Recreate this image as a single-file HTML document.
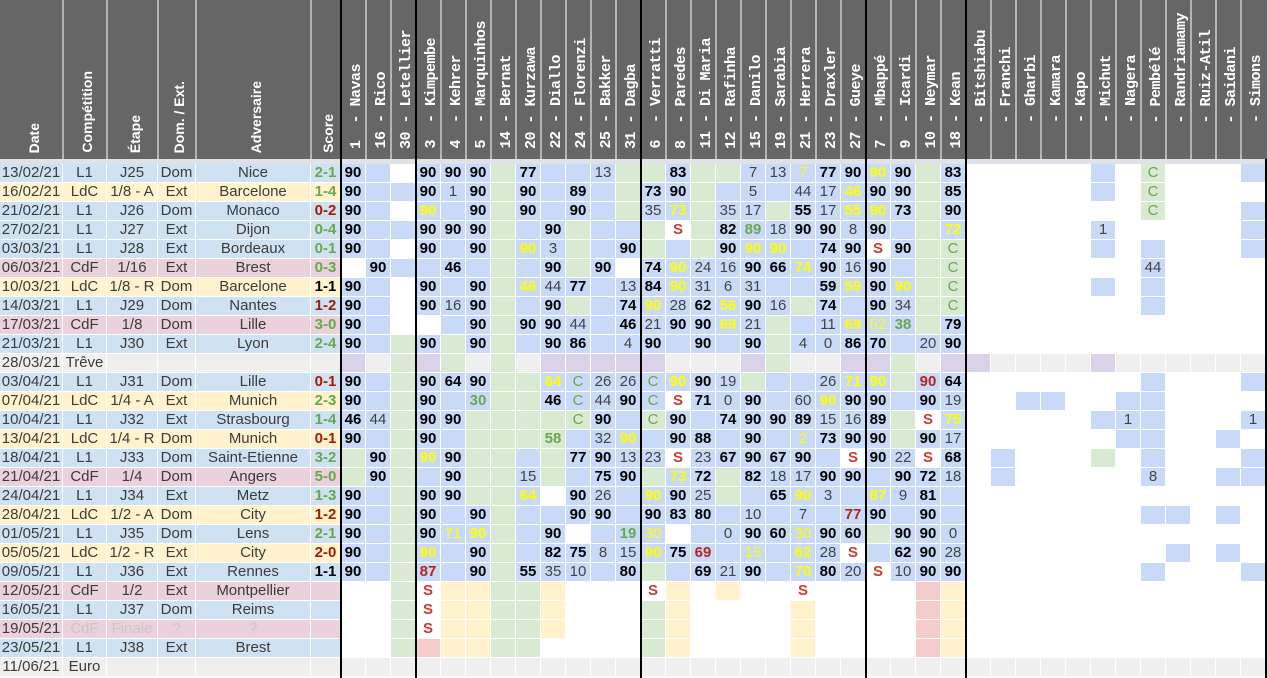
<!DOCTYPE html>
<html><head><meta charset="utf-8"><style>
*{margin:0;padding:0}
body{width:1267px;height:678px;overflow:hidden;position:relative;background:#fff;font-family:"Liberation Sans",Arial,sans-serif}
#hd{position:absolute;left:0;top:0;width:1267px;height:159px;background:#666}
.sp{position:absolute;top:0;width:2px;height:159px;background:#b4b4b4}
.lh,.ph{position:absolute;writing-mode:vertical-rl;transform:rotate(180deg);color:#fff;white-space:pre;width:25px}
.lh{font:bold 14px/25px "Liberation Sans",sans-serif;bottom:6px}
.ph{font:bold 15px/25px "Liberation Mono",monospace;letter-spacing:-0.5px;bottom:10px}
#gap{position:absolute;left:0;top:159px;width:1267px;height:5px;background:#dfe3e8}
.row{position:absolute;left:0;height:19px;display:flex}
.row>span,.row>i{flex:none;display:block;box-sizing:border-box;height:19px;border-right:1px solid #fff;border-bottom:1px solid #fff;text-align:center;line-height:18px;font-size:15px;white-space:nowrap;overflow:hidden;font-style:normal}
.row>i{width:25px;font-weight:bold;color:#000;background:#fff}
.row>span{color:#3c3c3c}
.c1{width:63px}.c2{width:44px}.c3{width:51px}.c4{width:38px}.c5{width:115px}.c6{width:30px;font-weight:bold}
.rb>span{background:#cfe2f3}.ry>span{background:#fff2cc}.rp>span{background:#ead1dc}.re>span{background:#efefef}
.row>.sg{color:#6aa84f}.row>.sr{color:#a61c00}.row>.sk{color:#000}.row>.lt{color:#c8c8c8}
.row>.B{background:#c9daf8}.row>.G{background:#d9ead3}.row>.Y{background:#fff2cc}.row>.L{background:#d9d2e9}.row>.E{background:#efefef}.row>.P{background:#f4cccc}
.row>.n{font-weight:normal;color:#434343}
.row>.y{color:#ffff00}
.row>.g{color:#6aa84f}
.row>.c{color:#6aa84f;font-weight:normal}
.row>.r{color:#b3261e}
.row>.s{color:#cc3d2f}
.bl{position:absolute;top:0;width:2px;height:678px;background:#000;z-index:5}
</style></head><body>
<div id="hd">
<div class="sp" style="left:62px"></div><div class="sp" style="left:106px"></div><div class="sp" style="left:157px"></div><div class="sp" style="left:195px"></div><div class="sp" style="left:310px"></div>
<div class="sp" style="left:365px"></div><div class="sp" style="left:390px"></div>
<div class="sp" style="left:440px"></div><div class="sp" style="left:465px"></div><div class="sp" style="left:490px"></div><div class="sp" style="left:515px"></div><div class="sp" style="left:540px"></div><div class="sp" style="left:565px"></div><div class="sp" style="left:590px"></div><div class="sp" style="left:615px"></div>
<div class="sp" style="left:665px"></div><div class="sp" style="left:690px"></div><div class="sp" style="left:715px"></div><div class="sp" style="left:740px"></div><div class="sp" style="left:765px"></div><div class="sp" style="left:790px"></div><div class="sp" style="left:815px"></div><div class="sp" style="left:840px"></div>
<div class="sp" style="left:890px"></div><div class="sp" style="left:915px"></div><div class="sp" style="left:940px"></div>
<div class="sp" style="left:990px"></div><div class="sp" style="left:1015px"></div><div class="sp" style="left:1040px"></div><div class="sp" style="left:1065px"></div><div class="sp" style="left:1090px"></div><div class="sp" style="left:1115px"></div><div class="sp" style="left:1140px"></div><div class="sp" style="left:1165px"></div><div class="sp" style="left:1190px"></div><div class="sp" style="left:1215px"></div><div class="sp" style="left:1240px"></div>
<span class="lh" style="left:22px">Date</span>
<span class="lh" style="left:75px">Compétition</span>
<span class="lh" style="left:123px">Étape</span>
<span class="lh" style="left:167px">Dom. / Ext.</span>
<span class="lh" style="left:244px">Adversaire</span>
<span class="lh" style="left:316px">Score</span>
<span class="ph" style="left:344px">1  - Navas</span>
<span class="ph" style="left:369px">16 - Rico</span>
<span class="ph" style="left:394px">30 - Letellier</span>
<span class="ph" style="left:419px">3  - Kimpembe</span>
<span class="ph" style="left:444px">4  - Kehrer</span>
<span class="ph" style="left:469px">5  - Marquinhos</span>
<span class="ph" style="left:494px">14 - Bernat</span>
<span class="ph" style="left:519px">20 - Kurzawa</span>
<span class="ph" style="left:544px">22 - Diallo</span>
<span class="ph" style="left:569px">24 - Florenzi</span>
<span class="ph" style="left:594px">25 - Bakker</span>
<span class="ph" style="left:619px">31 - Dagba</span>
<span class="ph" style="left:644px">6  - Verratti</span>
<span class="ph" style="left:669px">8  - Paredes</span>
<span class="ph" style="left:694px">11 - Di Maria</span>
<span class="ph" style="left:719px">12 - Rafinha</span>
<span class="ph" style="left:744px">15 - Danilo</span>
<span class="ph" style="left:769px">19 - Sarabia</span>
<span class="ph" style="left:794px">21 - Herrera</span>
<span class="ph" style="left:819px">23 - Draxler</span>
<span class="ph" style="left:844px">27 - Gueye</span>
<span class="ph" style="left:869px">7  - Mbappé</span>
<span class="ph" style="left:894px">9  - Icardi</span>
<span class="ph" style="left:919px">10 - Neymar</span>
<span class="ph" style="left:944px">18 - Kean</span>
<span class="ph" style="left:969px">   - Bitshiabu</span>
<span class="ph" style="left:994px">   - Franchi</span>
<span class="ph" style="left:1019px">   - Gharbi</span>
<span class="ph" style="left:1044px">   - Kamara</span>
<span class="ph" style="left:1069px">   - Kapo</span>
<span class="ph" style="left:1094px">   - Michut</span>
<span class="ph" style="left:1119px">   - Nagera</span>
<span class="ph" style="left:1144px">   - Pembélé</span>
<span class="ph" style="left:1169px">   - Randriamamy</span>
<span class="ph" style="left:1194px">   - Ruiz-Atil</span>
<span class="ph" style="left:1219px">   - Saidani</span>
<span class="ph" style="left:1244px">   - Simons</span>
</div>
<div id="gap"></div>

<div class="row rb" style="top:164px"><span class="c1">13/02/21</span><span class="c2">L1</span><span class="c3">J25</span><span class="c4">Dom</span><span class="c5">Nice</span><span class="c6 sg">2-1</span><i class="B">90</i><i class="B"></i><i></i><i class="B">90</i><i class="B">90</i><i class="B">90</i><i class="G"></i><i class="B">77</i><i class="B"></i><i class="B"></i><i class="B n">13</i><i class="G"></i><i class="G"></i><i class="B">83</i><i class="G"></i><i class="G"></i><i class="B n">7</i><i class="B n">13</i><i class="B n y">7</i><i class="B">77</i><i class="B">90</i><i class="B y">90</i><i class="B">90</i><i class="G"></i><i class="B">83</i><i></i><i></i><i></i><i></i><i></i><i class="B"></i><i></i><i class="G c">C</i><i></i><i></i><i></i><i class="B"></i></div>

<div class="row ry" style="top:183px"><span class="c1">16/02/21</span><span class="c2">LdC</span><span class="c3">1/8 - A</span><span class="c4">Ext</span><span class="c5">Barcelone</span><span class="c6 sg">1-4</span><i class="B">90</i><i class="B"></i><i class="B"></i><i class="B">90</i><i class="B n">1</i><i class="B">90</i><i class="G"></i><i class="B">90</i><i class="B"></i><i class="B">89</i><i class="B"></i><i class="G"></i><i class="B">73</i><i class="B">90</i><i class="G"></i><i class="B"></i><i class="B n">5</i><i class="B"></i><i class="B n">44</i><i class="B n">17</i><i class="B y">46</i><i class="B">90</i><i class="B">90</i><i class="G"></i><i class="B">85</i><i></i><i></i><i></i><i></i><i></i><i class="B"></i><i></i><i class="G c">C</i></div>

<div class="row rb" style="top:202px"><span class="c1">21/02/21</span><span class="c2">L1</span><span class="c3">J26</span><span class="c4">Dom</span><span class="c5">Monaco</span><span class="c6 sr">0-2</span><i class="B">90</i><i class="B"></i><i></i><i class="B y">90</i><i class="B"></i><i class="B">90</i><i class="G"></i><i class="B">90</i><i class="B"></i><i class="B">90</i><i class="B"></i><i class="G"></i><i class="B n">35</i><i class="B y">73</i><i class="G"></i><i class="B n">35</i><i class="B n">17</i><i class="G"></i><i class="B">55</i><i class="B n">17</i><i class="B y">55</i><i class="B y">90</i><i class="B">73</i><i class="G"></i><i class="B">90</i><i></i><i></i><i></i><i></i><i></i><i></i><i></i><i class="G c">C</i><i></i><i></i><i></i><i class="B"></i></div>

<div class="row rb" style="top:221px"><span class="c1">27/02/21</span><span class="c2">L1</span><span class="c3">J27</span><span class="c4">Ext</span><span class="c5">Dijon</span><span class="c6 sg">0-4</span><i class="B">90</i><i class="B"></i><i class="B"></i><i class="B">90</i><i class="B">90</i><i class="B">90</i><i class="G"></i><i class="B"></i><i class="B">90</i><i class="G"></i><i class="B"></i><i class="B"></i><i class="G"></i><i class="s">S</i><i class="G"></i><i class="B">82</i><i class="B g">89</i><i class="B n">18</i><i class="B">90</i><i class="B">90</i><i class="B n">8</i><i class="B">90</i><i class="B"></i><i class="G"></i><i class="B y">72</i><i></i><i></i><i></i><i></i><i></i><i class="B n">1</i><i></i><i></i><i></i><i></i><i></i><i class="B"></i></div>

<div class="row rb" style="top:240px"><span class="c1">03/03/21</span><span class="c2">L1</span><span class="c3">J28</span><span class="c4">Ext</span><span class="c5">Bordeaux</span><span class="c6 sg">0-1</span><i class="B">90</i><i class="B"></i><i></i><i class="B">90</i><i class="B"></i><i class="B">90</i><i class="G"></i><i class="B y">90</i><i class="B n">3</i><i class="G"></i><i class="B"></i><i class="B">90</i><i class="G"></i><i class="B"></i><i class="G"></i><i class="B">90</i><i class="B y">90</i><i class="B y">90</i><i class="B"></i><i class="B">74</i><i class="B">90</i><i class="s">S</i><i class="B">90</i><i class="G"></i><i class="G c">C</i><i></i><i></i><i></i><i></i><i></i><i class="B"></i><i></i><i class="B"></i><i></i><i></i><i></i><i class="B"></i></div>

<div class="row rp" style="top:259px"><span class="c1">06/03/21</span><span class="c2">CdF</span><span class="c3">1/16</span><span class="c4">Ext</span><span class="c5">Brest</span><span class="c6 sg">0-3</span><i></i><i class="B">90</i><i class="B"></i><i class="B"></i><i class="B">46</i><i class="B"></i><i class="G"></i><i class="B"></i><i class="B">90</i><i class="G"></i><i class="B">90</i><i></i><i class="B">74</i><i class="B y">90</i><i class="B n">24</i><i class="B n">16</i><i class="B">90</i><i class="B">66</i><i class="B y">74</i><i class="B">90</i><i class="B n">16</i><i class="B">90</i><i class="B"></i><i class="G"></i><i class="G c">C</i><i></i><i></i><i></i><i></i><i></i><i></i><i></i><i class="B n">44</i></div>

<div class="row ry" style="top:278px"><span class="c1">10/03/21</span><span class="c2">LdC</span><span class="c3">1/8 - R</span><span class="c4">Dom</span><span class="c5">Barcelone</span><span class="c6 sk">1-1</span><i class="B">90</i><i class="B"></i><i></i><i class="B">90</i><i class="B"></i><i class="B">90</i><i class="G"></i><i class="B y">46</i><i class="B n">44</i><i class="B">77</i><i class="B"></i><i class="B n">13</i><i class="B">84</i><i class="B y">90</i><i class="B n">31</i><i class="B n">6</i><i class="B n">31</i><i class="B"></i><i class="B"></i><i class="B">59</i><i class="B y">59</i><i class="B">90</i><i class="B y">90</i><i class="G"></i><i class="G c">C</i><i></i><i></i><i></i><i></i><i></i><i class="B"></i><i></i><i class="B"></i></div>

<div class="row rb" style="top:297px"><span class="c1">14/03/21</span><span class="c2">L1</span><span class="c3">J29</span><span class="c4">Dom</span><span class="c5">Nantes</span><span class="c6 sr">1-2</span><i class="B">90</i><i class="B"></i><i></i><i class="B">90</i><i class="B n">16</i><i class="B">90</i><i class="G"></i><i class="B"></i><i class="B">90</i><i class="G"></i><i class="B"></i><i class="B">74</i><i class="B y">90</i><i class="B n">28</i><i class="B">62</i><i class="B y">56</i><i class="B">90</i><i class="B n">16</i><i class="G"></i><i class="B">74</i><i class="B"></i><i class="B">90</i><i class="B n">34</i><i class="G"></i><i class="G c">C</i><i></i><i></i><i></i><i></i><i></i><i></i><i></i><i class="B"></i></div>

<div class="row rp" style="top:316px"><span class="c1">17/03/21</span><span class="c2">CdF</span><span class="c3">1/8</span><span class="c4">Dom</span><span class="c5">Lille</span><span class="c6 sg">3-0</span><i class="B">90</i><i class="B"></i><i></i><i></i><i class="B"></i><i class="B">90</i><i class="G"></i><i class="B">90</i><i class="B">90</i><i class="B n">44</i><i class="B"></i><i class="B">46</i><i class="B n">21</i><i class="B">90</i><i class="B">90</i><i class="B y">69</i><i class="B n">21</i><i class="G"></i><i class="B"></i><i class="B n">11</i><i class="B y">69</i><i class="B n y">52</i><i class="B g">38</i><i class="G"></i><i class="B">79</i></div>

<div class="row rb" style="top:335px"><span class="c1">21/03/21</span><span class="c2">L1</span><span class="c3">J30</span><span class="c4">Ext</span><span class="c5">Lyon</span><span class="c6 sg">2-4</span><i class="B">90</i><i class="B"></i><i class="G"></i><i class="B">90</i><i class="G"></i><i class="B">90</i><i class="G"></i><i class="B"></i><i class="B">90</i><i class="B">86</i><i class="B"></i><i class="B n">4</i><i class="B">90</i><i class="B"></i><i class="B">90</i><i class="B"></i><i class="B">90</i><i class="G"></i><i class="B n">4</i><i class="B n">0</i><i class="B">86</i><i class="B">70</i><i class="B"></i><i class="B n">20</i><i class="B">90</i></div>

<div class="row re" style="top:354px"><span class="c1">28/03/21</span><span class="c2">Trêve</span><span class="c3"></span><span class="c4"></span><span class="c5"></span><span class="c6"></span><i class="L"></i><i class="E"></i><i class="G"></i><i class="L"></i><i class="G"></i><i class="E"></i><i class="G"></i><i class="E"></i><i class="L"></i><i class="L"></i><i class="L"></i><i class="L"></i><i class="L"></i><i class="E"></i><i class="E"></i><i class="E"></i><i class="L"></i><i class="G"></i><i class="E"></i><i class="E"></i><i class="L"></i><i class="L"></i><i class="G"></i><i class="E"></i><i class="L"></i><i class="L"></i><i class="E"></i><i class="E"></i><i class="E"></i><i class="E"></i><i class="L"></i><i class="E"></i><i class="E"></i><i class="E"></i><i class="E"></i><i class="E"></i><i class="E"></i></div>

<div class="row rb" style="top:373px"><span class="c1">03/04/21</span><span class="c2">L1</span><span class="c3">J31</span><span class="c4">Dom</span><span class="c5">Lille</span><span class="c6 sr">0-1</span><i class="B">90</i><i class="B"></i><i class="G"></i><i class="B">90</i><i class="B">64</i><i class="B">90</i><i class="G"></i><i class="G"></i><i class="B y">64</i><i class="B c">C</i><i class="B n">26</i><i class="B n">26</i><i class="B c">C</i><i class="B y">90</i><i class="B">90</i><i class="B n">19</i><i class="G"></i><i class="B"></i><i class="B"></i><i class="B n">26</i><i class="B y">71</i><i class="B y">90</i><i class="G"></i><i class="B r">90</i><i class="B">64</i><i></i><i></i><i></i><i></i><i></i><i></i><i></i><i class="B"></i><i></i><i></i><i></i><i class="B"></i></div>

<div class="row ry" style="top:392px"><span class="c1">07/04/21</span><span class="c2">LdC</span><span class="c3">1/4 - A</span><span class="c4">Ext</span><span class="c5">Munich</span><span class="c6 sg">2-3</span><i class="B">90</i><i class="B"></i><i class="G"></i><i class="B">90</i><i class="B"></i><i class="B g">30</i><i class="G"></i><i class="G"></i><i class="B">46</i><i class="B c">C</i><i class="B n">44</i><i class="B">90</i><i class="B c">C</i><i class="s">S</i><i class="B">71</i><i class="B n">0</i><i class="B">90</i><i class="B"></i><i class="B n">60</i><i class="B y">90</i><i class="B">90</i><i class="B">90</i><i class="B"></i><i class="B">90</i><i class="B n">19</i><i></i><i></i><i class="B"></i><i class="B"></i><i></i><i></i><i class="B"></i><i class="B"></i></div>

<div class="row rb" style="top:411px"><span class="c1">10/04/21</span><span class="c2">L1</span><span class="c3">J32</span><span class="c4">Ext</span><span class="c5">Strasbourg</span><span class="c6 sg">1-4</span><i class="B">46</i><i class="B n">44</i><i class="G"></i><i class="B">90</i><i class="B">90</i><i class="G"></i><i class="G"></i><i class="G"></i><i class="G"></i><i class="G c">C</i><i class="B">90</i><i class="B"></i><i class="G c">C</i><i class="B">90</i><i class="B"></i><i class="B">74</i><i class="B">90</i><i class="B">90</i><i class="B">89</i><i class="B n">15</i><i class="B n">16</i><i class="B">89</i><i class="G"></i><i class="s">S</i><i class="B y">75</i><i></i><i></i><i></i><i></i><i></i><i class="B"></i><i class="B n">1</i><i class="B"></i><i></i><i></i><i></i><i class="B n">1</i></div>

<div class="row ry" style="top:430px"><span class="c1">13/04/21</span><span class="c2">LdC</span><span class="c3">1/4 - R</span><span class="c4">Dom</span><span class="c5">Munich</span><span class="c6 sr">0-1</span><i class="B">90</i><i class="B"></i><i class="G"></i><i class="B">90</i><i class="B"></i><i class="G"></i><i class="G"></i><i class="G"></i><i class="G g">58</i><i class="B"></i><i class="B n">32</i><i class="B y">90</i><i class="B"></i><i class="B">90</i><i class="B">88</i><i class="B"></i><i class="B">90</i><i class="B"></i><i class="B n y">2</i><i class="B">73</i><i class="B">90</i><i class="B">90</i><i class="G"></i><i class="B">90</i><i class="B n">17</i><i></i><i></i><i></i><i></i><i></i><i></i><i class="B"></i><i class="B"></i><i></i><i></i><i class="B"></i></div>

<div class="row rb" style="top:449px"><span class="c1">18/04/21</span><span class="c2">L1</span><span class="c3">J33</span><span class="c4">Dom</span><span class="c5">Saint-Etienne</span><span class="c6 sg">3-2</span><i class="G"></i><i class="B">90</i><i class="G"></i><i class="B y">90</i><i class="B">90</i><i class="G"></i><i class="G"></i><i class="B"></i><i class="G"></i><i class="B">77</i><i class="B">90</i><i class="B n">13</i><i class="B n">23</i><i class="s">S</i><i class="B n">23</i><i class="B">67</i><i class="B">90</i><i class="B">67</i><i class="B">90</i><i class="B"></i><i class="s">S</i><i class="B">90</i><i class="B n">22</i><i class="s">S</i><i class="B">68</i><i></i><i class="B"></i><i></i><i></i><i></i><i class="G"></i><i></i><i class="B"></i><i></i><i></i><i></i><i class="B"></i></div>

<div class="row rp" style="top:468px"><span class="c1">21/04/21</span><span class="c2">CdF</span><span class="c3">1/4</span><span class="c4">Dom</span><span class="c5">Angers</span><span class="c6 sg">5-0</span><i class="G"></i><i class="B">90</i><i class="G"></i><i class="B"></i><i class="B">90</i><i class="G"></i><i class="G"></i><i class="B n">15</i><i class="G"></i><i class="B"></i><i class="B">75</i><i class="B">90</i><i class="G"></i><i class="B y">73</i><i class="B">72</i><i class="G"></i><i class="B">82</i><i class="B n">18</i><i class="B n">17</i><i class="B">90</i><i class="B">90</i><i class="B"></i><i class="B">90</i><i class="B">72</i><i class="B n">18</i><i></i><i class="B"></i><i></i><i></i><i></i><i></i><i></i><i class="B n">8</i><i></i><i></i><i class="B"></i><i class="B"></i></div>

<div class="row rb" style="top:487px"><span class="c1">24/04/21</span><span class="c2">L1</span><span class="c3">J34</span><span class="c4">Ext</span><span class="c5">Metz</span><span class="c6 sg">1-3</span><i class="B">90</i><i class="B"></i><i class="G"></i><i class="B">90</i><i class="B">90</i><i class="G"></i><i class="G"></i><i class="B y">64</i><i></i><i class="B">90</i><i class="B n">26</i><i class="B"></i><i class="B y">90</i><i class="B">90</i><i class="B n">25</i><i class="G"></i><i class="B"></i><i class="B">65</i><i class="B y">90</i><i class="B n">3</i><i class="B"></i><i class="B y">87</i><i class="B n">9</i><i class="B">81</i><i class="B"></i></div>

<div class="row ry" style="top:506px"><span class="c1">28/04/21</span><span class="c2">LdC</span><span class="c3">1/2 - A</span><span class="c4">Dom</span><span class="c5">City</span><span class="c6 sr">1-2</span><i class="B">90</i><i class="B"></i><i class="G"></i><i class="B">90</i><i class="B"></i><i class="B">90</i><i class="G"></i><i class="B"></i><i class="B"></i><i class="B">90</i><i class="B">90</i><i class="B"></i><i class="B">90</i><i class="B">83</i><i class="B">80</i><i class="B"></i><i class="B n">10</i><i class="B"></i><i class="B n">7</i><i class="B"></i><i class="B r">77</i><i class="B">90</i><i class="B"></i><i class="B">90</i><i class="B"></i><i></i><i></i><i></i><i></i><i></i><i></i><i></i><i class="B"></i><i class="B"></i><i></i><i class="B"></i></div>

<div class="row rb" style="top:525px"><span class="c1">01/05/21</span><span class="c2">L1</span><span class="c3">J35</span><span class="c4">Dom</span><span class="c5">Lens</span><span class="c6 sg">2-1</span><i class="B">90</i><i class="B"></i><i class="G"></i><i class="B">90</i><i class="B n y">71</i><i class="B y">90</i><i class="G"></i><i class="B"></i><i class="B">90</i><i></i><i class="B"></i><i class="B g">19</i><i class="B n y">30</i><i></i><i class="B"></i><i class="B n">0</i><i class="B">90</i><i class="B">60</i><i class="B n y">30</i><i class="B">90</i><i class="B">60</i><i class="G"></i><i class="B">90</i><i class="B">90</i><i class="B n">0</i></div>

<div class="row ry" style="top:544px"><span class="c1">05/05/21</span><span class="c2">LdC</span><span class="c3">1/2 - R</span><span class="c4">Ext</span><span class="c5">City</span><span class="c6 sr">2-0</span><i class="B">90</i><i class="B"></i><i class="G"></i><i class="B y">90</i><i class="B"></i><i class="B">90</i><i class="G"></i><i class="B"></i><i class="B">82</i><i class="B">75</i><i class="B n">8</i><i class="B n">15</i><i class="B y">90</i><i class="B">75</i><i class="B r">69</i><i class="B"></i><i class="B n y">15</i><i class="B"></i><i class="B y">62</i><i class="B n">28</i><i class="s">S</i><i class="B"></i><i class="B">62</i><i class="B">90</i><i class="B n">28</i><i></i><i></i><i></i><i></i><i></i><i></i><i></i><i></i><i class="B"></i><i></i><i class="B"></i></div>

<div class="row rb" style="top:563px"><span class="c1">09/05/21</span><span class="c2">L1</span><span class="c3">J36</span><span class="c4">Ext</span><span class="c5">Rennes</span><span class="c6 sk">1-1</span><i class="B">90</i><i class="B"></i><i class="G"></i><i class="B r">87</i><i class="B"></i><i class="B">90</i><i class="G"></i><i class="B">55</i><i class="B n">35</i><i class="B n">10</i><i class="B"></i><i class="B">80</i><i class="G"></i><i class="B"></i><i class="B">69</i><i class="B n">21</i><i class="B">90</i><i class="B"></i><i class="B y">70</i><i class="B">80</i><i class="B n">20</i><i class="s">S</i><i class="B n">10</i><i class="B">90</i><i class="B">90</i><i></i><i></i><i></i><i></i><i></i><i></i><i></i><i class="B"></i><i></i><i></i><i></i><i class="B"></i></div>

<div class="row rp" style="top:582px"><span class="c1">12/05/21</span><span class="c2">CdF</span><span class="c3">1/2</span><span class="c4">Ext</span><span class="c5">Montpellier</span><span class="c6"></span><i></i><i></i><i class="G"></i><i class="s">S</i><i class="Y"></i><i class="Y"></i><i class="G"></i><i class="G"></i><i class="Y"></i><i></i><i></i><i></i><i class="s">S</i><i class="Y"></i><i></i><i class="Y"></i><i></i><i></i><i class="s">S</i><i></i><i></i><i></i><i></i><i class="P"></i><i class="Y"></i></div>

<div class="row rb" style="top:601px"><span class="c1">16/05/21</span><span class="c2">L1</span><span class="c3">J37</span><span class="c4">Dom</span><span class="c5">Reims</span><span class="c6"></span><i></i><i></i><i class="G"></i><i class="s">S</i><i class="Y"></i><i class="Y"></i><i class="G"></i><i class="G"></i><i class="Y"></i><i></i><i></i><i></i><i class="G"></i><i class="Y"></i><i></i><i></i><i></i><i></i><i class="Y"></i><i></i><i></i><i></i><i></i><i class="P"></i><i class="Y"></i></div>

<div class="row rp" style="top:620px"><span class="c1">19/05/21</span><span class="c2 lt">CdF</span><span class="c3 lt">Finale</span><span class="c4 lt">?</span><span class="c5 lt">?</span><span class="c6"></span><i></i><i></i><i class="G"></i><i class="s">S</i><i class="Y"></i><i class="Y"></i><i class="G"></i><i class="G"></i><i class="Y"></i><i></i><i></i><i></i><i class="G"></i><i class="Y"></i><i></i><i></i><i></i><i></i><i class="Y"></i><i></i><i></i><i></i><i></i><i class="P"></i><i class="Y"></i></div>

<div class="row rb" style="top:639px"><span class="c1">23/05/21</span><span class="c2">L1</span><span class="c3">J38</span><span class="c4">Ext</span><span class="c5">Brest</span><span class="c6"></span><i></i><i></i><i class="G"></i><i class="P"></i><i class="Y"></i><i class="Y"></i><i class="G"></i><i class="G"></i><i></i><i></i><i></i><i></i><i class="G"></i><i class="Y"></i><i></i><i></i><i></i><i></i><i class="Y"></i><i></i><i></i><i></i><i></i><i class="P"></i><i class="Y"></i></div>

<div class="row re" style="top:658px"><span class="c1">11/06/21</span><span class="c2">Euro</span><span class="c3"></span><span class="c4"></span><span class="c5"></span><span class="c6"></span><i class="E"></i><i class="E"></i><i class="E"></i><i class="E"></i><i class="E"></i><i class="E"></i><i class="E"></i><i class="E"></i><i class="E"></i><i class="E"></i><i class="E"></i><i class="E"></i><i class="E"></i><i class="E"></i><i class="E"></i><i class="E"></i><i class="E"></i><i class="E"></i><i class="E"></i><i class="E"></i><i class="E"></i><i class="E"></i><i class="E"></i><i class="E"></i><i class="E"></i><i class="E"></i><i class="E"></i><i class="E"></i><i class="E"></i><i class="E"></i><i class="E"></i><i class="E"></i><i class="E"></i><i class="E"></i><i class="E"></i><i class="E"></i><i class="E"></i></div>

<div class="bl" style="left:340px"></div>
<div class="bl" style="left:415px"></div>
<div class="bl" style="left:640px"></div>
<div class="bl" style="left:865px"></div>
<div class="bl" style="left:965px"></div>
<div class="bl" style="left:1265px;top:159px;height:519px"></div>
</body></html>
